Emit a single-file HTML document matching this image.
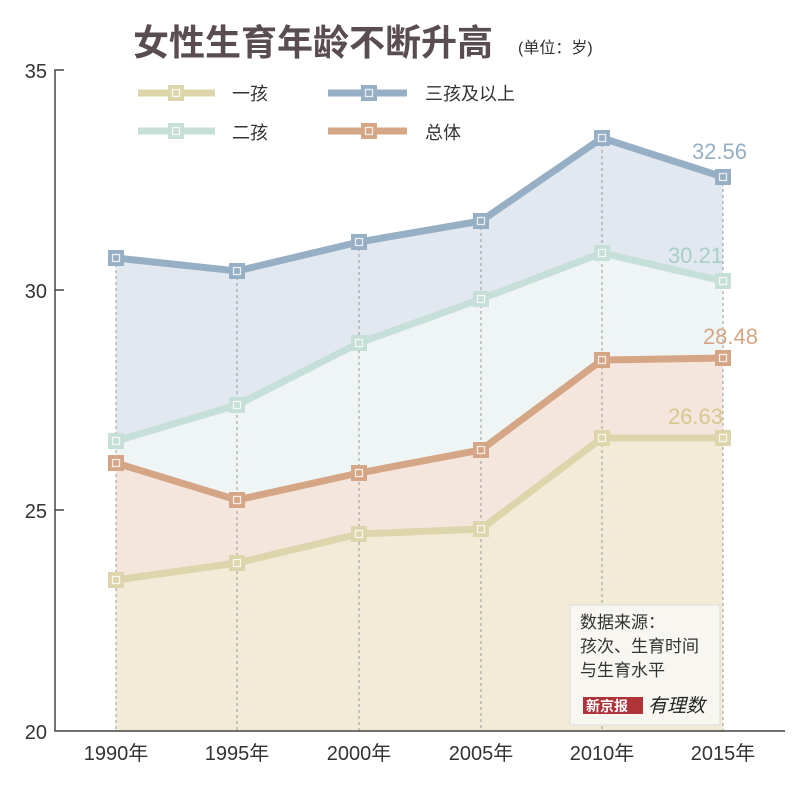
<!DOCTYPE html><html><head><meta charset="utf-8"><style>body{margin:0;background:#fff}svg{display:block}text{font-family:"Liberation Sans","Noto Sans CJK SC",sans-serif}</style></head><body>
<svg width="800" height="805" viewBox="0 0 800 805">
<defs>
<g id="m"><rect x="-8" y="-8" width="16" height="16"/><rect x="-3.5" y="-3.5" width="7" height="7" fill="none" stroke="#fff" stroke-width="1.3" opacity="0.8"/></g>
</defs>
<!-- areas -->
<polygon fill="#e2e8ef" points="116,258 237,271 359,242 481,221 602,138 723,177 723,281 602,253 481,299 359,343 237,405 116,441"/>
<polygon fill="#eff5f4" points="116,441 237,405 359,343 481,299 602,253 723,281 723,358 602,360 481,450 359,473 237,500 116,463"/>
<polygon fill="#f5e6dd" points="116,463 237,500 359,473 481,450 602,360 723,358 723,438 602,438 481,529 359,534 237,563 116,580"/>
<polygon fill="#f1ebd8" points="116,580 237,563 359,534 481,529 602,438 723,438 723,731 116,731"/>
<g stroke="#999" stroke-dasharray="3,3" stroke-width="1">
<line x1="116" y1="258" x2="116" y2="731"/><line x1="237" y1="271" x2="237" y2="731"/><line x1="359" y1="242" x2="359" y2="731"/><line x1="481" y1="221" x2="481" y2="731"/><line x1="602" y1="138" x2="602" y2="731"/><line x1="723" y1="177" x2="723" y2="731"/></g>
<g fill="none" stroke-width="7">
<polyline stroke="#97afc5" points="116,258 237,271 359,242 481,221 602,138 723,177"/>
<polyline stroke="#c6dfd8" points="116,441 237,405 359,343 481,299 602,253 723,281"/>
<polyline stroke="#d5a685" points="116,463 237,500 359,473 481,450 602,360 723,358"/>
<polyline stroke="#ddd5ab" points="116,580 237,563 359,534 481,529 602,438 723,438"/>
</g>
<g fill="#97afc5"><use href="#m" x="116" y="258"/><use href="#m" x="237" y="271"/><use href="#m" x="359" y="242"/><use href="#m" x="481" y="221"/><use href="#m" x="602" y="138"/><use href="#m" x="723" y="177"/></g>
<g fill="#c6dfd8"><use href="#m" x="116" y="441"/><use href="#m" x="237" y="405"/><use href="#m" x="359" y="343"/><use href="#m" x="481" y="299"/><use href="#m" x="602" y="253"/><use href="#m" x="723" y="281"/></g>
<g fill="#d5a685"><use href="#m" x="116" y="463"/><use href="#m" x="237" y="500"/><use href="#m" x="359" y="473"/><use href="#m" x="481" y="450"/><use href="#m" x="602" y="360"/><use href="#m" x="723" y="358"/></g>
<g fill="#ddd5ab"><use href="#m" x="116" y="580"/><use href="#m" x="237" y="563"/><use href="#m" x="359" y="534"/><use href="#m" x="481" y="529"/><use href="#m" x="602" y="438"/><use href="#m" x="723" y="438"/></g>
<g font-size="22" text-anchor="end">
<text x="747" y="159" fill="#97afc5">32.56</text>
<text x="723" y="263" fill="#a8cfc8">30.21</text>
<text x="758" y="344" fill="#d5a685">28.48</text>
<text x="723" y="424" fill="#d8c690">26.63</text></g>
<!-- axes -->
<g stroke="#444" stroke-width="1.5" fill="none">
<polyline points="64,70 55,70 55,731 785,731"/>
<line x1="55" y1="290" x2="64" y2="290"/><line x1="55" y1="510" x2="64" y2="510"/>
</g>
<g font-size="20" fill="#333" text-anchor="end">
<text x="47" y="78">35</text><text x="47" y="298">30</text><text x="47" y="518">25</text><text x="47" y="739">20</text></g>
<g font-size="20" fill="#333" text-anchor="middle">
<text x="116" y="760">1990年</text><text x="237" y="760">1995年</text><text x="359" y="760">2000年</text><text x="481" y="760">2005年</text><text x="602" y="760">2010年</text><text x="723" y="760">2015年</text></g>
<!-- title -->
<text x="133" y="55" font-size="36" font-weight="bold" fill="#5a4d52">女性生育年龄不断升高</text>
<text x="518" y="53" font-size="16" fill="#333">(单位：岁)</text>
<!-- legend -->
<g stroke-width="7">
<line x1="138" y1="93" x2="215" y2="93" stroke="#ddd5ab"/><line x1="138" y1="131" x2="215" y2="131" stroke="#c6dfd8"/>
<line x1="328" y1="93" x2="407" y2="93" stroke="#97afc5"/><line x1="328" y1="131" x2="407" y2="131" stroke="#d5a685"/></g>
<use href="#m" x="176" y="93" fill="#ddd5ab"/><use href="#m" x="176" y="131" fill="#c6dfd8"/>
<use href="#m" x="369" y="93" fill="#97afc5"/><use href="#m" x="369" y="131" fill="#d5a685"/>
<g font-size="18" fill="#333"><text x="232" y="100">一孩</text><text x="232" y="139">二孩</text><text x="425" y="100">三孩及以上</text><text x="425" y="139">总体</text></g>
<!-- source box -->
<rect x="570" y="605" width="150" height="120" fill="#f8f6f1" stroke="#ddd"/>
<g font-size="17" fill="#333"><text x="580" y="628">数据来源：</text><text x="580" y="652">孩次、生育时间</text><text x="580" y="676">与生育水平</text></g>
<rect x="583" y="697" width="60" height="17" fill="#b0333a"/>
<text x="586" y="711" font-size="14" fill="#fff" font-weight="bold">新京报</text>
<text x="648" y="712" font-size="19" fill="#222" font-style="italic">有理数</text>
</svg></body></html>
